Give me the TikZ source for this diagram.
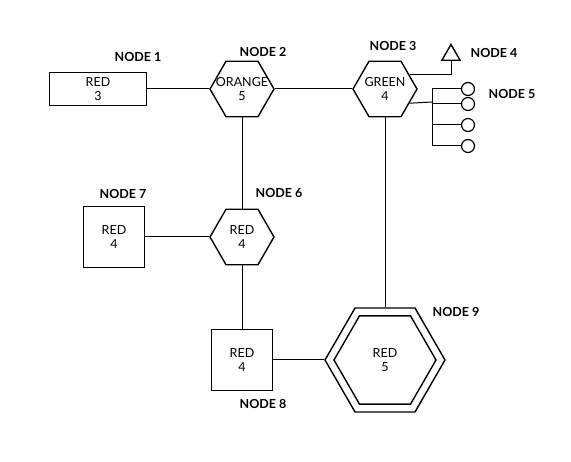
\documentclass[tikz,border=0pt]{standalone}
\usepackage{fontspec}
\setmainfont{Lato}
\usetikzlibrary{shapes.geometric}

\tikzset{
	box/.style={draw,line width=1.4pt,inner sep=0pt,align=center,font=\fontsize{12.5}{13.5}\selectfont},
	hex/.style={box,regular polygon,regular polygon sides=6,
		label={[align=center,font=\fontsize{12.5}{13.5}\selectfont]center:#1}},
	hex/.default={},
	tag/.style={font=\fontsize{12.5}{14}\selectfont\bfseries},
	link/.style={line width=1pt},
}

\begin{document}
\begin{tikzpicture}[x=1pt,y=-1pt]
	\useasboundingbox (0,0) rectangle (571,462);
	% top row
	\node[box,minimum width=97,minimum height=33] (red1) at (98,89) {RED\\3};
	\node[hex={ORANGE\\5},minimum size=64] (orange2) at (242,89) {};
	\node[hex={GREEN\\4},minimum size=64] (green3) at (385,89) {};
	\node[box,regular polygon,regular polygon sides=3,minimum size=21] (tri4) at (451,55) {};
	\foreach \y [count=\i] in {89,104,125,146}
		\node[circle,draw,line width=1.2pt,minimum size=13,inner sep=0pt] (ring\i) at (468,\y) {};
	\coordinate (bus) at (432,102);
	% middle and bottom
	\node[box,minimum size=61] (red7) at (114,237) {RED\\4};
	\node[hex={RED\\4},minimum size=64] (red6) at (242,237) {};
	\node[box,minimum size=61] (red8) at (242,360) {RED\\4};
	\node[hex,minimum size=120] (red9) at (385,360) {};
	\node[hex={RED\\5},minimum size=102] (red9in) at (red9) {};
	% labels
	\node[tag] (lab1) at (138,57) {NODE 1};
	\node[tag] (lab2) at (263,52) {NODE 2};
	\node[tag] (lab3) at (393,46) {NODE 3};
	\node[tag] (lab4) at (494,53) {NODE 4};
	\node[tag] (lab5) at (512,94) {NODE 5};
	\node[tag] (lab6) at (279,193) {NODE 6};
	\node[tag] (lab7) at (123,194) {NODE 7};
	\node[tag] (lab8) at (263,404) {NODE 8};
	\node[tag] (lab9) at (456,312) {NODE 9};
	% connectors
	\draw[link] (red1) -- (orange2);
	\draw[link] (orange2) -- (green3);
	\draw[link] (orange2) -- (red6);
	\draw[link] (red7) -- (red6);
	\draw[link] (red6) -- (red8);
	\draw[link] (red8) -- (red9);
	\draw[link] (green3) -- (red9);
	\draw[link] (green3.30) -| (tri4.south);
	\draw[link] (green3.-30) -- (bus);
	\foreach \i in {1,...,4}
		\draw[link] (bus) |- (ring\i);
\end{tikzpicture}
\end{document}
